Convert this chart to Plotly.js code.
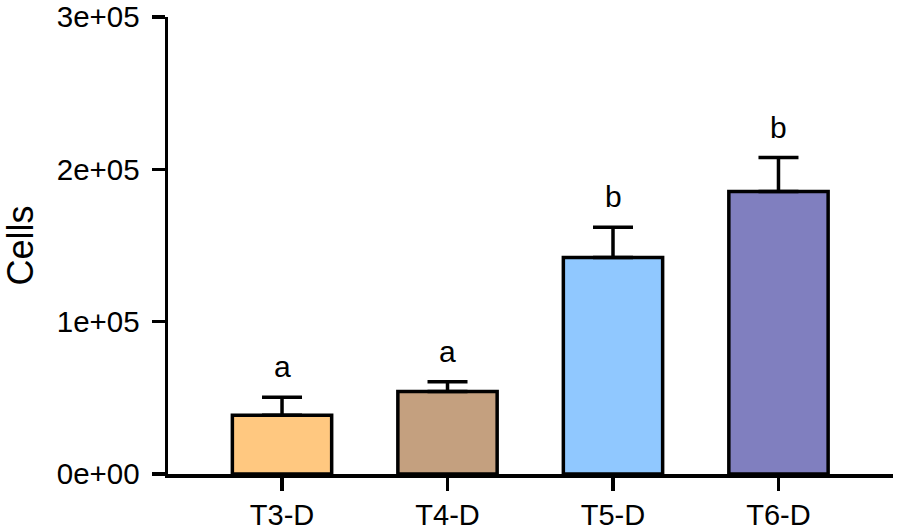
<!DOCTYPE html>
<html>
<head>
<meta charset="utf-8">
<script src="https://cdn.plot.ly/plotly-3.0.1.min.js"></script>
<style>
  html, body { margin: 0; padding: 0; background: #fff; }
  #chart { width: 900px; height: 531px; }
</style>
</head>
<body>
<div id="chart"></div>
<script>
var groups = ['T3-D', 'T4-D', 'T5-D', 'T6-D'];
var cells = [38600, 54100, 142100, 185500];
var errs = [11800, 6500, 19900, 22200];
var letters = ['a', 'a', 'b', 'b'];
var barColors = ['#FFC880', '#C4A07F', '#90C8FF', '#807FBF'];

var tickVals = [0, 100000, 200000, 300000];
var tickText = ['0e+00', '1e+05', '2e+05', '3e+05'];

var font = 'Liberation Sans, Arial, sans-serif';

var bars = {
  x: groups,
  y: cells,
  type: 'bar',
  width: 0.6,
  marker: {
    color: barColors,
    line: { color: 'black', width: 3.5 }
  },
  error_y: {
    type: 'data',
    symmetric: false,
    array: errs,
    arrayminus: errs.map(function () { return 0; }),
    color: 'black',
    thickness: 3.5,
    width: 20
  },
  hoverinfo: 'none'
};

var notes = groups.map(function (g, i) {
  return {
    x: g,
    y: cells[i] + errs[i],
    text: letters[i],
    showarrow: false,
    yanchor: 'bottom',
    yshift: 12,
    font: { family: font, size: 30, color: 'black' }
  };
});

var layout = {
  width: 900,
  height: 531,
  margin: { l: 168, r: 7, t: 17, b: 57 },
  paper_bgcolor: 'white',
  plot_bgcolor: 'white',
  showlegend: false,
  font: { family: font, size: 30, color: 'black' },
  xaxis: {
    type: 'category',
    range: [-0.689, 3.692],
    showgrid: false,
    zeroline: false,
    showline: true,
    linecolor: 'black',
    linewidth: 3.5,
    ticks: 'outside',
    ticklen: 13,
    tickwidth: 3.5,
    tickcolor: 'black',
    tickfont: { family: font, size: 29, color: 'black' }
  },
  yaxis: {
    range: [0, 300000],
    tickvals: tickVals,
    ticktext: tickText,
    ticklabeloverflow: 'allow',
    ticklabelstandoff: 6,
    showgrid: false,
    zeroline: false,
    showline: true,
    linecolor: 'black',
    linewidth: 3.5,
    ticks: 'outside',
    ticklen: 13,
    tickwidth: 3.5,
    tickcolor: 'black',
    tickfont: { family: font, size: 29.5, color: 'black' },
    title: { text: 'Cells', standoff: 17, font: { family: font, size: 36, color: 'black' } }
  },
  annotations: notes
};

Plotly.newPlot('chart', [bars], layout, { displayModeBar: false, staticPlot: true });
</script>
</body>
</html>
